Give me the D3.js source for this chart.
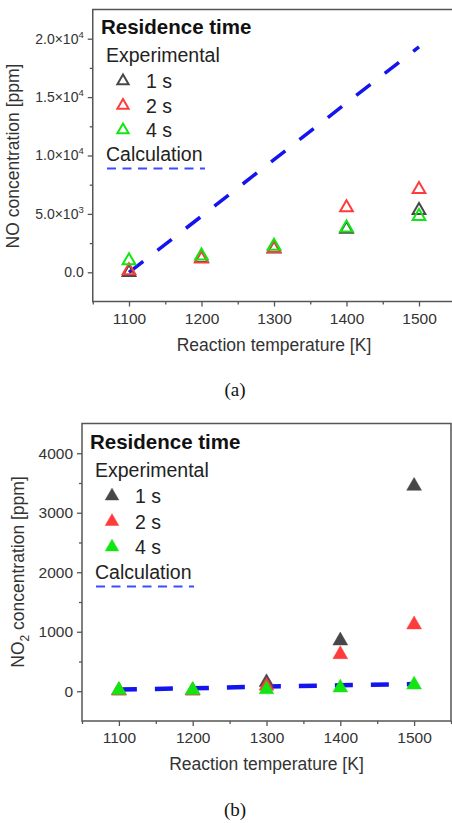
<!DOCTYPE html>
<html>
<head>
<meta charset="utf-8">
<script src="https://cdn.jsdelivr.net/npm/d3@7"></script>
<style>
  html, body { margin: 0; padding: 0; background: #fff; }
  svg { display: block; }
</style>
</head>
<body>
<svg id="fig" width="452" height="823"></svg>
<script>
// Reaction temperatures [K]
const temperatures = [1100, 1200, 1300, 1400, 1500];
const residenceLabels = ["1 s", "2 s", "4 s"];
const seriesColors = ["#474747", "#ff3c3c", "#12e612"];

// (a) NO concentration [ppm]
const no1s = [0, 1200, 2000, 3700, 5300];
const no2s = [150, 1150, 2050, 5550, 7100];
const no4s = [1000, 1400, 2250, 3800, 4800];
const noCalc = [0, 4800, 9650, 14500, 19300];
const noTicks = [0, 5000, 10000, 15000, 20000];

// (b) NO2 concentration [ppm]
const no2_1s = [10, 10, 150, 850, 3450];
const no2_2s = [10, 10, 90, 620, 1120];
const no2_4s = [20, 20, 30, 60, 110];
const no2Calc = [30, 50, 80, 100, 120];
const no2Ticks = [0, 1000, 2000, 3000, 4000];

const xTicks = [1100, 1200, 1300, 1400, 1500];

const svg = d3.select("#fig");
const axisColor = "#555";
const textColor = "#333";
const sansFont = "'Liberation Sans', Arial, sans-serif";
const legendSize = 19.5;
const tri = d3.symbol().type(d3.symbolTriangle);

function panel(cfg) {
  const g = svg.append("g");
  const x = d3.scaleLinear().domain([1050, 1550]).range([cfg.left, cfg.right]);
  const y = d3.scaleLinear().domain(cfg.yDomain).range([cfg.bottom, cfg.top]);

  // frame
  g.append("rect")
    .attr("x", cfg.left).attr("y", cfg.top)
    .attr("width", cfg.right - cfg.left).attr("height", cfg.bottom - cfg.top)
    .attr("fill", "none").attr("stroke", axisColor).attr("stroke-width", 1.5);

  // bottom axis
  const xMinor = d3.range(1050, 1551, 50).filter(v => !xTicks.includes(v));
  const xAxis = d3.axisBottom(x).tickValues(xTicks).tickSize(5).tickPadding(6).tickFormat(d3.format("d"));
  const xa = g.append("g").attr("transform", `translate(0,${cfg.bottom})`).call(xAxis);
  const xm = g.append("g").attr("transform", `translate(0,${cfg.bottom})`)
    .call(d3.axisBottom(x).tickValues(xMinor).tickSize(3).tickFormat(""));
  // left axis
  const yStep = cfg.yTicks[1] - cfg.yTicks[0];
  const yMinor = cfg.yTicks.map(v => v + yStep / 2).concat([cfg.yTicks[0] - yStep / 2])
    .filter(v => v > cfg.yDomain[0] && v < cfg.yDomain[1]);
  const ya = g.append("g").attr("transform", `translate(${cfg.left},0)`)
    .call(d3.axisLeft(y).tickValues(cfg.yTicks).tickSize(5).tickPadding(4).tickFormat(() => ""));
  const ym = g.append("g").attr("transform", `translate(${cfg.left},0)`)
    .call(d3.axisLeft(y).tickValues(yMinor).tickSize(3).tickFormat(""));

  [xa, xm, ya, ym].forEach(a => {
    a.select(".domain").remove();
    a.selectAll(".tick line").attr("stroke", axisColor).attr("stroke-width", 1.3);
  });
  xa.selectAll("text").attr("fill", textColor).attr("font-family", sansFont).attr("font-size", 15.5);

  // y tick labels (custom, with superscripts)
  ya.selectAll(".tick text").each(function (d) {
    const t = d3.select(this).text(null)
      .attr("fill", textColor).attr("font-family", sansFont).attr("font-size", cfg.yFontSize);
    cfg.yFormat(t, d);
  });

  // axis titles
  g.append("text")
    .attr("x", (x(1100) + x(1500)) / 2).attr("y", cfg.xTitleY)
    .attr("text-anchor", "middle").attr("fill", textColor)
    .attr("font-family", sansFont).attr("font-size", 17.5)
    .text("Reaction temperature [K]");
  const yt = g.append("text")
    .attr("transform", `translate(${cfg.yTitleX},${cfg.yTitleY}) rotate(-90)`)
    .attr("text-anchor", "middle").attr("fill", textColor)
    .attr("font-family", sansFont).attr("font-size", 17.5);
  cfg.yTitle(yt);

  // calculation line
  g.append("path")
    .datum(temperatures.map((t, i) => [t, cfg.calc[i]]))
    .attr("d", d3.line().x(d => x(d[0])).y(d => y(d[1])))
    .attr("fill", "none").attr("stroke", "#1414ee")
    .attr("stroke-width", cfg.calcWidth).attr("stroke-dasharray", "18,18");

  // experimental markers
  cfg.series.forEach((vals, si) => {
    g.append("g").selectAll("path")
      .data(temperatures.map((t, i) => [t, vals[i]]))
      .join("path")
      .attr("transform", d => `translate(${x(d[0])},${y(d[1])})`)
      .attr("d", tri.size(cfg.markerSize)())
      .attr("fill", cfg.filled ? seriesColors[si] : "none")
      .attr("stroke", seriesColors[si])
      .attr("stroke-width", cfg.filled ? 0.5 : 2);
  });

  // legend
  const L = cfg.legend;
  const lg = g.append("g");
  lg.append("text").attr("x", L.x).attr("y", L.y)
    .attr("font-family", sansFont).attr("font-weight", "bold").attr("font-size", 20.5)
    .attr("fill", "#111").text("Residence time");
  lg.append("text").attr("x", L.x + 5).attr("y", L.y + 28)
    .attr("font-family", sansFont).attr("font-size", legendSize).attr("fill", "#222").text("Experimental");
  residenceLabels.forEach((lab, i) => {
    const cy = L.y + 47 + i * L.rowGap;
    lg.append("path").attr("transform", `translate(${L.x + 22},${cy})`)
      .attr("d", tri.size(cfg.legendMarkerSize)())
      .attr("fill", cfg.filled ? seriesColors[i] : "none")
      .attr("stroke", seriesColors[i]).attr("stroke-width", cfg.filled ? 0.5 : 2);
    lg.append("text").attr("x", L.x + 45).attr("y", cy + 7)
      .attr("font-family", sansFont).attr("font-size", legendSize).attr("fill", "#222").text(lab);
  });
  const cy = L.y + 47 + 3 * L.rowGap;
  lg.append("text").attr("x", L.x + 5).attr("y", cy + 6)
    .attr("font-family", sansFont).attr("font-size", legendSize).attr("fill", "#222").text("Calculation");
  lg.append("line").attr("x1", L.x + 6).attr("x2", L.x + 104)
    .attr("y1", cy + 14).attr("y2", cy + 14)
    .attr("stroke", "#3a4cff").attr("stroke-width", 2).attr("stroke-dasharray", "9,6.5");

  // panel caption
  g.append("text").attr("x", 235).attr("y", cfg.captionY)
    .attr("text-anchor", "middle").attr("font-family", "'Liberation Serif', 'Times New Roman', serif")
    .attr("font-size", 19).attr("fill", "#111").text(cfg.caption);
}

// (a) NO
panel({
  left: 92.75, right: 455.25, top: 9.5, bottom: 301.5,
  yDomain: [-2500, 22500], yTicks: noTicks, yFontSize: 14,
  yFormat: (t, d) => {
    if (d === 0) { t.text("0.0"); return; }
    const exp = Math.floor(Math.log10(d));
    const m = d / Math.pow(10, exp);
    t.append("tspan").text(m.toFixed(1) + "\u00d710");
    t.append("tspan").attr("font-size", 9.5).attr("dy", -6).text(exp);
  },
  xTitleY: 351, yTitleX: 19, yTitleY: 156,
  yTitle: t => t.text("NO concentration [ppm]"),
  calc: noCalc, calcWidth: 3.5,
  series: [no1s, no2s, no4s], filled: false, markerSize: 70, legendMarkerSize: 55,
  legend: { x: 101, y: 34, rowGap: 24.5 },
  caption: "(a)", captionY: 396
});

// (b) NO2
panel({
  left: 82, right: 451, top: 423.5, bottom: 721,
  yDomain: [-500, 4500], yTicks: no2Ticks, yFontSize: 15.5,
  yFormat: (t, d) => t.text(d3.format("d")(d)),
  xTitleY: 770, yTitleX: 24, yTitleY: 572,
  yTitle: t => {
    t.append("tspan").text("NO");
    t.append("tspan").attr("font-size", 12).attr("dy", 5).text("2");
    t.append("tspan").attr("dy", -5).text(" concentration [ppm]");
  },
  calc: no2Calc, calcWidth: 4.5,
  series: [no2_1s, no2_2s, no2_4s], filled: true, markerSize: 95, legendMarkerSize: 80,
  legend: { x: 90, y: 449, rowGap: 25.5 },
  caption: "(b)", captionY: 816
});
</script>
</body>
</html>
